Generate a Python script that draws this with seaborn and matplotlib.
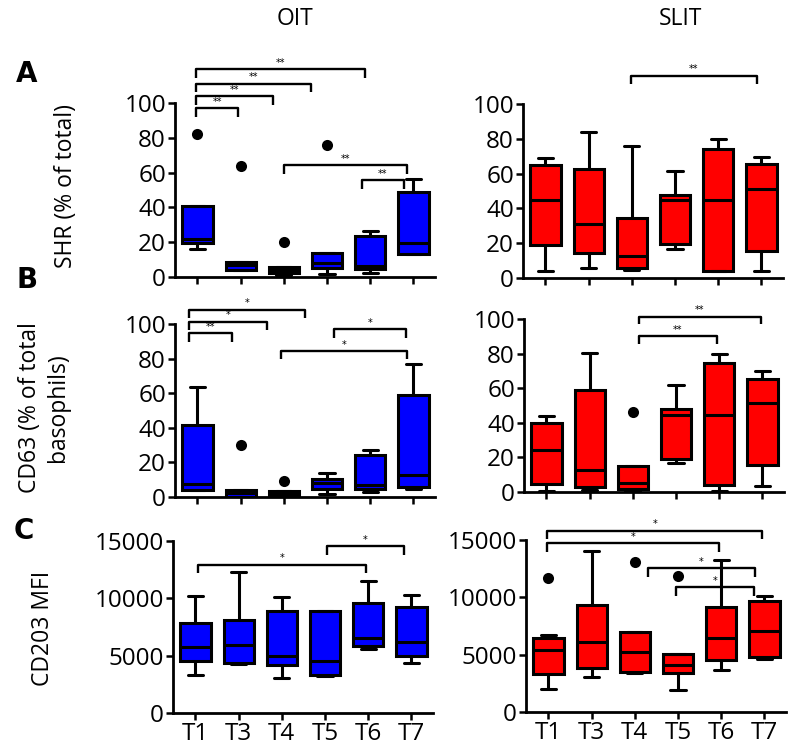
import pandas as pd
import seaborn as sns
import matplotlib.pyplot as plt

sns.set_style('white')
plt.rcParams['font.family'] = ['Open Sans', 'DejaVu Sans']
plt.rcParams['text.color'] = 'black'

times = ['T1', 'T3', 'T4', 'T5', 'T6', 'T7']

# five-number summaries: [min, q1, median, q3, max] per time point
shr_oit = [[16.3, 19.8, 22.0, 40.8, 40.8], [4.2, 4.2, 6.7, 8.8, 8.8], [1.0, 2.3, 3.8, 5.8, 5.8],
           [1.5, 5.0, 8.3, 13.8, 13.8], [2.5, 4.4, 6.2, 23.8, 26.3], [13.0, 13.5, 19.8, 49.0, 56.5]]
shr_slit = [[3.8, 19.2, 44.6, 64.8, 68.7], [5.6, 14.2, 31.0, 62.9, 83.7], [4.4, 6.0, 12.7, 34.2, 75.6],
            [16.7, 19.8, 44.8, 47.9, 61.5], [4.2, 4.2, 44.6, 74.2, 79.8], [3.8, 15.4, 51.2, 65.4, 69.4]]
cd63_oit = [[4.0, 4.3, 7.4, 41.6, 63.6], [0.0, 0.0, 2.3, 3.9, 3.9], [0.0, 0.0, 1.7, 3.5, 3.5],
            [1.9, 4.4, 8.1, 10.4, 13.9], [2.7, 4.6, 7.0, 24.2, 27.0], [4.8, 5.8, 12.8, 59.0, 77.0]]
cd63_slit = [[0.4, 4.4, 24.1, 40.0, 43.8], [1.0, 2.9, 12.7, 58.7, 80.3], [0.4, 1.7, 5.2, 14.9, 14.9],
             [16.6, 19.3, 44.6, 48.0, 61.6], [0.5, 4.0, 44.6, 74.3, 79.7], [3.5, 15.4, 51.4, 65.3, 69.9]]
cd203_oit = [[3285, 4506, 5785, 7849, 10174], [4302, 4390, 5901, 8140, 12267], [3023, 4215, 5000, 8866, 10116],
             [3227, 3285, 4535, 8866, 8866], [5581, 5843, 6512, 9622, 11483], [4390, 4971, 6192, 9215, 10262]]
cd203_slit = [[1977, 3314, 5436, 6483, 6715], [3081, 3808, 6134, 9302, 14012], [3430, 3488, 5203, 7006, 7006],
              [1890, 3372, 4070, 5087, 5087], [3634, 4506, 6483, 9186, 13256], [4593, 4797, 7035, 9680, 10087]]

# outliers (time point, value)
shr_oit_out = [('T1', 82), ('T3', 64), ('T4', 20.4), ('T5', 76)]
shr_slit_out = []
cd63_oit_out = [('T3', 30), ('T4', 9.5)]
cd63_slit_out = [('T4', 46.5)]
cd203_oit_out = []
cd203_slit_out = [('T1', 11686), ('T4', 13081), ('T5', 11860)]

# significance brackets: (from, to, height, label)
shr_oit_sig = [(-0.03, 3.88, 119.6, '**'), (-0.03, 2.63, 111.2, '**'), (-0.03, 1.76, 103.8, '**'),
               (-0.03, 0.94, 97.1, '**'), (2.0, 4.86, 64.2, '**'), (3.8, 4.79, 55.8, '**')]
shr_slit_sig = [(1.97, 4.9, 116.3, '**')]
cd63_oit_sig = [(-0.19, 2.48, 108.3, '*'), (-0.19, 1.6, 101.4, '*'), (-0.19, 0.79, 94.8, '**'),
                (3.17, 4.84, 97.1, '*'), (1.94, 4.86, 84.5, '*')]
cd63_slit_sig = [(2.14, 4.97, 101.4, '**'), (2.14, 3.94, 90.2, '**')]
cd203_oit_sig = [(0.05, 3.95, 12936, '*'), (3.04, 4.83, 14535, '*')]
cd203_slit_sig = [(-0.03, 4.95, 15814, '*'), (-0.03, 3.94, 14709, '*'),
                  (2.3, 4.78, 12529, '*'), (2.96, 4.76, 10872, '*')]

W, H = 800, 754
fig = plt.figure(figsize=(W / 100, H / 100), dpi=100)


def px_axes(l, t, r, b):
    return fig.add_axes([l / W, 1 - b / H, (r - l) / W, (b - t) / H])


def panel(rect, stats, outs, sigs, color, ymax, yticks, leg, show_x):
    ax = px_axes(*rect)
    df = pd.DataFrame([(t, v) for t, s in zip(times, stats) for v in s], columns=['time', 'value'])
    sns.boxplot(data=df, x='time', y='value', order=times, whis=(0, 100), color=color,
                saturation=1, linecolor='black', linewidth=2.2, width=0.7, fliersize=0, ax=ax)
    if outs:
        odf = pd.DataFrame(outs, columns=['time', 'value'])
        sns.stripplot(data=odf, x='time', y='value', order=times, jitter=False,
                      color='black', size=8, ax=ax)
    for x1, x2, y, lab in sigs:
        ax.plot([x1, x1, x2, x2], [y - leg, y, y, y - leg], color='black', lw=1.7,
                clip_on=False, solid_capstyle='butt')
        ax.text((x1 + x2) / 2, y + leg * 0.15, lab, ha='center', va='bottom', fontsize=7,
                family='DejaVu Sans')
    ax.set_xlim(-0.52, 5.5)
    ax.set_ylim(0, ymax)
    ax.set_yticks(yticks)
    ax.set_xlabel('')
    ax.set_ylabel('')
    sns.despine(ax=ax)
    for s in ['left', 'bottom']:
        ax.spines[s].set_linewidth(2)
        ax.spines[s].set_color('black')
    ax.tick_params(axis='both', direction='out', length=5, width=1.8, color='black',
                   labelcolor='black', labelsize=17.5, pad=1.5, left=True, bottom=True)
    if not show_x:
        ax.set_xticklabels([])
    return ax


pct = [0, 20, 40, 60, 80, 100]
mfi = [0, 5000, 10000, 15000]
panel((175, 103, 435, 277), shr_oit, shr_oit_out, shr_oit_sig, '#0000ff', 100, pct, 5, False)
panel((523, 104, 783, 278), shr_slit, shr_slit_out, shr_slit_sig, '#ff0000', 100, pct, 4.8, False)
panel((175, 324, 435, 497), cd63_oit, cd63_oit_out, cd63_oit_sig, '#0000ff', 100, pct, 5, False)
panel((524, 319, 784, 492), cd63_slit, cd63_slit_out, cd63_slit_sig, '#ff0000', 100, pct, 4.5, False)
panel((173, 541, 433, 713), cd203_oit, cd203_oit_out, cd203_oit_sig, '#0000ff', 15000, mfi, 750, True)
panel((526, 540, 786, 712), cd203_slit, cd203_slit_out, cd203_slit_sig, '#ff0000', 15000, mfi, 750, True)


def ftext(x, y, s, **kw):
    fig.text(x / W, 1 - y / H, s, ha='center', va='center', **kw)


ftext(295, 19, 'OIT', fontsize=16.5)
ftext(680, 19, 'SLIT', fontsize=16.5)
for x, y, lab in [(27, 74, 'A'), (27, 280, 'B'), (24, 531, 'C')]:
    ftext(x, y, lab, fontsize=20, fontweight='heavy', family='DejaVu Sans')
ftext(66, 186, 'SHR (% of total)', fontsize=16.5, rotation=90)
ftext(44, 408, 'CD63 (% of total\nbasophils)', fontsize=16.5, rotation=90, linespacing=1.2)
ftext(43, 628, 'CD203 MFI', fontsize=16.5, rotation=90)

fig.savefig('out.png', dpi=100)
